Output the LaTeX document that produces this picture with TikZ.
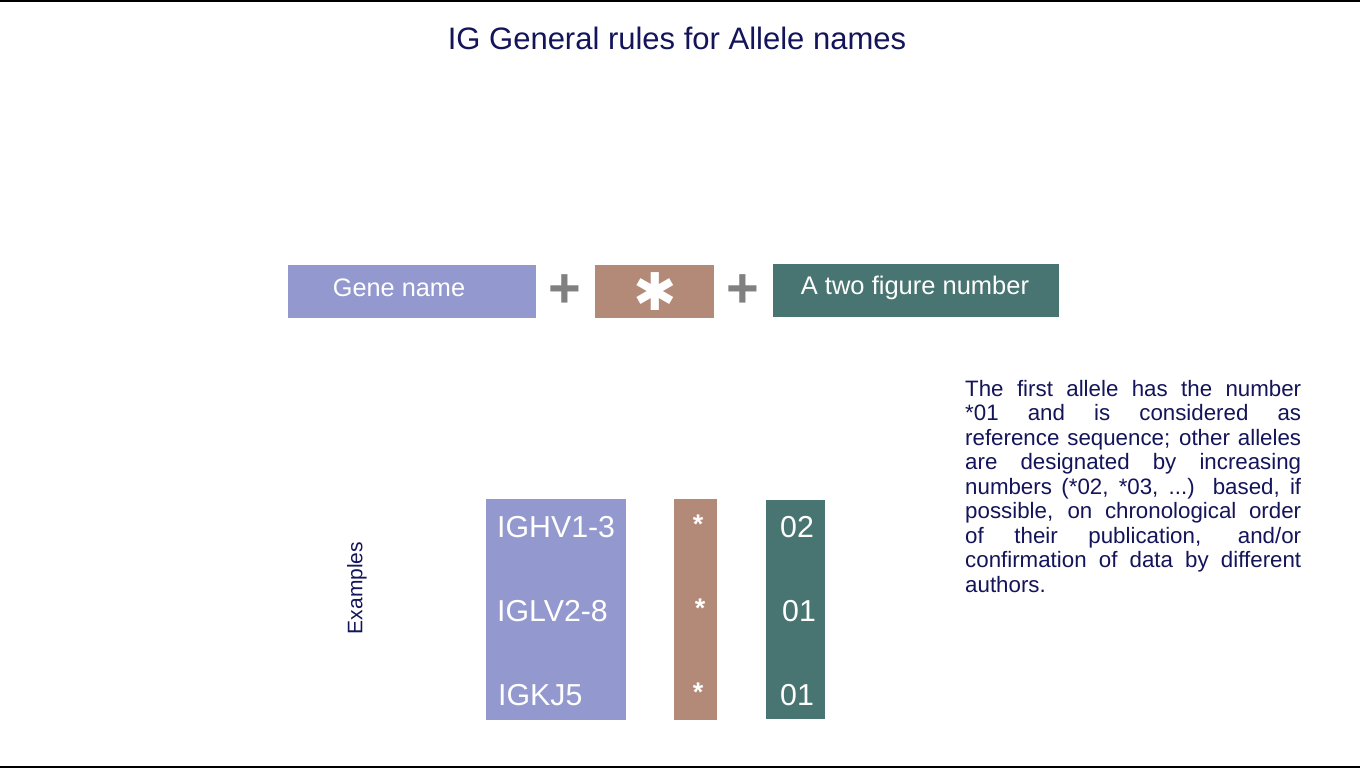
\documentclass[tikz,border=0pt]{standalone}
\usepackage{fontspec}
\setmainfont{Liberation Sans}
\newfontfamily\djv{DejaVu Sans}
\definecolor{lav}{RGB}{147,153,206}
\definecolor{brn}{RGB}{179,138,120}
\definecolor{tealc}{RGB}{72,117,113}
\definecolor{navy}{RGB}{20,20,90}
\definecolor{plusg}{RGB}{128,128,128}
\begin{document}
\begin{tikzpicture}[x=1pt,y=-1pt,
  box/.style={fill=#1,draw=none},
  wtext/.style={text=white,inner sep=0pt},
  plus/.style={text=plusg,font=\fontsize{56}{56}\selectfont\bfseries,inner sep=0pt},
  ex/.style={text=white,inner sep=0pt,font=\fontsize{30.3}{30.3}\selectfont},
  exs/.style={text=white,inner sep=0pt,font=\fontsize{27}{27}\selectfont\bfseries}]
\useasboundingbox (0,0) rectangle (1360,768);
\fill[white] (0,0) rectangle (1360,768);
\draw[line width=2pt] (0,1) -- (1360,1);
\draw[line width=2pt] (0,767) -- (1360,767);
\node[text=navy,inner sep=0pt,font=\fontsize{31}{31}\selectfont] (title) at (677,38) {IG General rules for Allele names};
% top row
\fill[lav] (288,265) rectangle (536,318);
\node[wtext,font=\fontsize{25.3}{25.3}\selectfont] (gene) at (399,288) {Gene name};
\node[plus] (p1) at (565,291) {+};
\fill[brn] (595,265) rectangle (714,318);
\node[wtext,font=\djv\fontsize{52}{52}\selectfont] (star) at (655,292) {✱};
\node[plus] (p2) at (743,291) {+};
\fill[tealc] (773,264) rectangle (1059,317);
\node[wtext,font=\fontsize{25.5}{25.5}\selectfont] (num) at (915,288) {A two figure number};
% examples
\node[rotate=90,text=navy,inner sep=0pt,font=\fontsize{21}{21}\selectfont] (exl) at (357,588) {Examples};
\fill[lav] (486,499) rectangle (626,720);
\fill[brn] (674,499) rectangle (717,720);
\fill[tealc] (766,500) rectangle (825,719);
\node[ex,anchor=west] (g1) at (497,527) {IGHV1-3};
\node[ex,anchor=west] (g2) at (497,611) {IGLV2-8};
\node[ex,anchor=west] (g3) at (498,695) {IGKJ5};
\node[exs] (s1) at (698,524) {*};
\node[exs] (s2) at (700,608) {*};
\node[exs] (s3) at (698,692) {*};
\node[ex] (n1) at (797,527) {02};
\node[ex] (n2) at (799,611) {01};
\node[ex] (n3) at (797,695) {01};
% paragraph
\node[anchor=north west,inner sep=0pt,text=navy,font=\fontsize{22.3}{24.5}\selectfont,align=left] (para) at (965,380) {%
\makebox[336pt][s]{The first allele has the number}\\
\makebox[336pt][s]{*01 and is considered as}\\
\makebox[336pt][s]{reference sequence; other alleles}\\
\makebox[336pt][s]{are designated by increasing}\\
\makebox[336pt][s]{numbers (*02, *03, ...) based, if}\\
\makebox[336pt][s]{possible, on chronological order}\\
\makebox[336pt][s]{of their publication, and/or}\\
\makebox[336pt][s]{confirmation of data by different}\\
authors.};
\end{tikzpicture}
\end{document}
